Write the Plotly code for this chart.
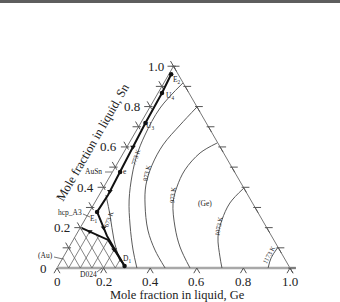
import numpy as np
import plotly.graph_objects as go

# ---------------- data (mole fractions: Ge, Sn) ----------------
tick_vals = [0.0, 0.2, 0.4, 0.6, 0.8, 1.0]
tick_labels = ["0", "0.2", "0.4", "0.6", "0.8", "1.0"]
minor_vals = [0.1, 0.2, 0.3, 0.4, 0.5, 0.6, 0.7, 0.8, 0.9, 1.0]

iso_673_ge = [0.029, 0.096, 0.175, 0.256]
iso_673_sn = [0.362, 0.263, 0.139, 0.030]
iso_773_ge = [0.082, 0.046, 0.048, 0.063, 0.092, 0.141, 0.207, 0.282, 0.343]
iso_773_sn = [0.917, 0.793, 0.659, 0.560, 0.461, 0.337, 0.213, 0.089, 0.0]
iso_873_ge = [0.202, 0.174, 0.150, 0.153, 0.176, 0.222, 0.296, 0.376, 0.464]
iso_873_sn = [0.798, 0.709, 0.610, 0.510, 0.411, 0.312, 0.188, 0.089, 0.0]
iso_973_ge = [0.377, 0.329, 0.306, 0.314, 0.337, 0.405, 0.476, 0.571]
iso_973_sn = [0.619, 0.570, 0.486, 0.401, 0.322, 0.203, 0.104, 0.0]
iso_1073_ge = [0.604, 0.581, 0.589, 0.614, 0.672, 0.708]
iso_1073_sn = [0.396, 0.322, 0.238, 0.154, 0.055, 0.0]
iso_1173_ge = [0.897, 0.894, 0.906]
iso_1173_sn = [0.104, 0.050, 0.0]

# monovariant (thick) lines
l1_ge = [0.010, 0.017, 0.020, 0.026, 0.033, 0.038, 0.033]
l1_sn = [0.960, 0.867, 0.719, 0.575, 0.476, 0.362, 0.278]
l2_ge = [0.033, 0.075, 0.135, 0.285]
l2_sn = [0.278, 0.228, 0.159, 0.010]
l3_ge = [0.008, 0.079, 0.150, 0.285]
l3_sn = [0.198, 0.169, 0.139, 0.010]

# invariant points
pt_names = ["E2", "U4", "U3", "e", "E1", "D1"]
pt_ge = [0.010, 0.017, 0.020, 0.033, 0.033, 0.285]
pt_sn = [0.960, 0.867, 0.719, 0.476, 0.278, 0.010]

# arrows on the lines
arr_ge = [0.026, 0.037, 0.100, 0.050, 0.200]
arr_sn = [0.600, 0.380, 0.200, 0.181, 0.090]

# hatching in the Au-rich region
hatch_ge_const = [0.05, 0.10, 0.15, 0.20, 0.25]
hatch_ge_top_sn = [0.181, 0.160, 0.139, 0.091, 0.043]
hatch_sum_const = [0.05, 0.10, 0.15, 0.20, 0.25]
hatch_sum_end_ge = [0.0, 0.0, 0.0, 0.0, 0.082]

# ---------------- helpers ----------------
R3 = np.sqrt(3) / 2
PX = 1 / 233.0  # one pixel in data units


def cx(ge, sn):
    return np.asarray(ge, float) + np.asarray(sn, float) / 2


def cy(sn):
    return np.asarray(sn, float) * R3


def px(x, y):
    return (x - 57) / 233.0, (268 - y) / 233.0


fig = go.Figure()
GRAY = "#6a6a6a"


def add_line(xs, ys, color=GRAY, width=1, shape="linear", dash="solid"):
    fig.add_trace(go.Scatter(x=list(xs), y=list(ys), mode="lines",
                             line=dict(color=color, width=width, shape=shape, dash=dash),
                             hoverinfo="skip", showlegend=False))


# triangle edges
add_line(cx([0, 0], [0, 1]), cy([0, 1]), color="#777777", width=1)
add_line(cx([1, 0], [0, 1]), cy([0, 1]), color="#777777", width=1)
add_line(cx([0, 1.025], [0, 0]), cy([0, 0]), color="#a8a8a8", width=2.5)

# ticks
tx, ty = [], []
L = 6 * PX
for s in minor_vals:  # left edge
    bx, by = float(cx(0, s)), float(cy(s))
    tx += [bx - L, bx + 0.4 * L, None]; ty += [by, by, None]
    tx += [bx - 0.5 * L, bx + 0.25 * L, None]; ty += [by + R3 * L, by - R3 * 0.5 * L, None]
for s in [0.0] + minor_vals:  # right edge
    bx, by = float(cx(1 - s, s)), float(cy(s))
    tx += [bx - 0.3 * L, bx + L, None]; ty += [by, by, None]
    tx += [bx, bx + 0.5 * L, None]; ty += [by, by - R3 * L, None]
for g in tick_vals:  # bottom edge
    bx = float(cx(g, 0))
    tx += [bx - 0.5 * L, bx, bx + 0.5 * L, None]; ty += [-R3 * L, 0, -R3 * L, None]
add_line(tx, ty, color="#555555", width=1)

# hatching
hx, hy = [], []
for g, s in zip(hatch_ge_const, hatch_ge_top_sn):
    hx += [float(cx(g, 0)), float(cx(g, s)), None]; hy += [0, float(cy(s)), None]
for c, ge in zip(hatch_sum_const, hatch_sum_end_ge):
    hx += [float(cx(c, 0)), float(cx(ge, c - ge)), None]; hy += [0, float(cy(c - ge)), None]
add_line(hx, hy, color="#666666", width=0.8)

# isotherms
for ge, sn in [(iso_673_ge, iso_673_sn), (iso_773_ge, iso_773_sn), (iso_873_ge, iso_873_sn),
               (iso_973_ge, iso_973_sn), (iso_1073_ge, iso_1073_sn), (iso_1173_ge, iso_1173_sn)]:
    add_line(cx(ge, sn), cy(sn), color="#5a5a5a", width=1, shape="spline")

# thick lines
for ge, sn in [(l1_ge, l1_sn), (l2_ge, l2_sn), (l3_ge, l3_sn)]:
    add_line(cx(ge, sn), cy(sn), color="#111111", width=2)

fig.add_trace(go.Scatter(x=cx(arr_ge, arr_sn), y=cy(arr_sn), mode="markers",
                         marker=dict(symbol="triangle-down", size=5, color="#111111"),
                         hoverinfo="skip", showlegend=False))
fig.add_trace(go.Scatter(x=cx(pt_ge, pt_sn), y=cy(pt_sn), mode="markers",
                         marker=dict(symbol="circle", size=4.5, color="#111111"),
                         hoverinfo="skip", showlegend=False))

# leaders for phase labels
lx, ly = [], []
for (x0, y0, x1, y1) in [(105, 172, 112, 172), (83, 214, 90, 217), (54, 257, 63, 259), (97, 272, 102, 268)]:
    a0, b0 = px(x0, y0); a1, b1 = px(x1, y1)
    lx += [a0, a1, None]; ly += [b0, b1, None]
add_line(lx, ly, color="#555555", width=0.8)

SERIF = "Liberation Serif, Times New Roman, serif"
ann = []


def text(t, x, y, size=8, angle=0, xanchor="center", color="#222222"):
    ann.append(dict(text=t, x=x, y=y, xref="x", yref="y", showarrow=False,
                    textangle=angle, xanchor=xanchor, yanchor="middle",
                    font=dict(family=SERIF, size=size, color=color)))


for v, lab in zip(tick_vals, tick_labels):
    text(lab, float(cx(v, 0)), -13 * PX, size=13)
    text(lab, float(cx(0, v)) - 8 * PX, float(cy(v)), size=13, xanchor="right")

x, y = px(177, 295)
text("Mole fraction in liquid, Ge", x, y, size=12.5)
x, y = px(93, 142)
text("Mole fraction in liquid, Sn", x, y, size=12.5, angle=-60)

for t, (xp, yp) in [("E<sub>2</sub>", (177, 80)), ("U<sub>4</sub>", (170, 96)), ("U<sub>3</sub>", (150, 126)),
                    ("e", (125, 171)), ("AuSn", (93, 171)), ("hcp_A3", (70, 212)),
                    ("E<sub>1</sub>", (94, 219)), ("(Au)", (45, 255)), ("D024", (88, 274)),
                    ("D<sub>1</sub>", (127, 259)), ("(Ge)", (205, 203))]:
    x, y = px(xp, yp)
    text(t, x, y, size=7.5)

for t, (xp, yp), ang in [("773 K", (135, 157), -72), ("873 K", (146, 173), -78),
                         ("973 K", (172, 195), -85), ("1073 K", (218, 226), -80),
                         ("1173 K", (268, 255), -62), ("673 K", (108, 219), -70)]:
    x, y = px(xp, yp)
    text(t, x, y, size=6.5, angle=ang)

fig.update_layout(
    width=340, height=302, margin=dict(l=0, r=0, t=0, b=0),
    paper_bgcolor="white", plot_bgcolor="white", showlegend=False,
    xaxis=dict(range=[-57 / 233, 283 / 233], visible=False, fixedrange=True),
    yaxis=dict(range=[-34 / 233, 268 / 233], visible=False, fixedrange=True),
    annotations=ann,
    shapes=[dict(type="rect", xref="paper", yref="paper", x0=0, x1=1, y0=1 - 3 / 302, y1=1,
                 fillcolor="#5e5e5e", line=dict(width=0), layer="above")],
)

fig.write_html("out.html")
